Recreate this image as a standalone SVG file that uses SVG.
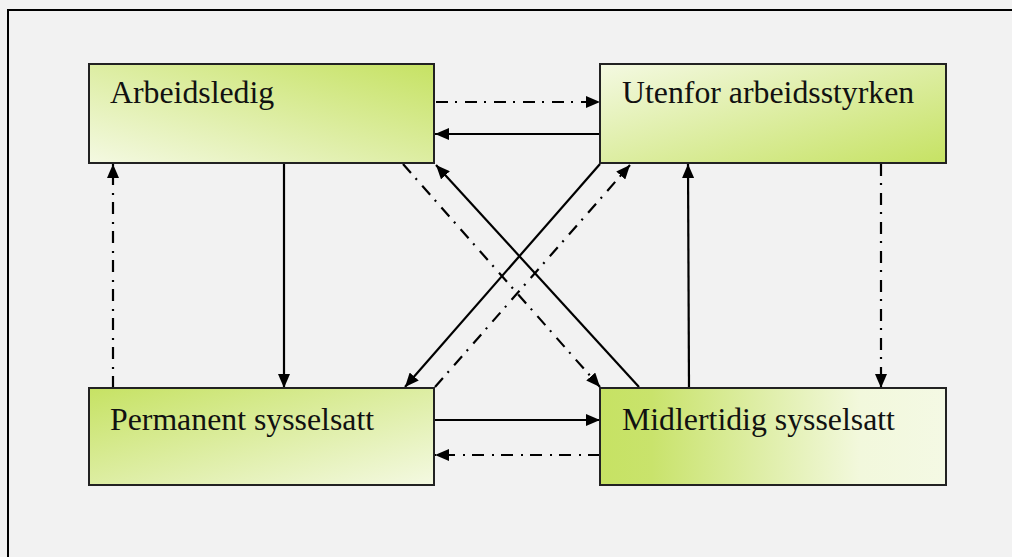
<svg xmlns="http://www.w3.org/2000/svg" width="1012" height="557" viewBox="0 0 1012 557">
<defs>
<linearGradient id="g1" x1="0" y1="1" x2="1" y2="0"><stop offset="0" stop-color="#f4f9e2"/><stop offset="1" stop-color="#c6e263"/></linearGradient>
<linearGradient id="g2" x1="0" y1="0" x2="1" y2="1"><stop offset="0" stop-color="#f4f9e2"/><stop offset="1" stop-color="#c6e263"/></linearGradient>
<linearGradient id="g3" x1="0" y1="0" x2="1" y2="1"><stop offset="0" stop-color="#c6e263"/><stop offset="1" stop-color="#f4f9e2"/></linearGradient>
<linearGradient id="g4" x1="0" y1="0" x2="1" y2="0"><stop offset="0" stop-color="#c6e263"/><stop offset="0.15" stop-color="#c9e36c"/><stop offset="0.75" stop-color="#f2f8dc"/><stop offset="1" stop-color="#f4f9e4"/></linearGradient>
<marker id="ah" viewBox="0 0 14 12" refX="14" refY="6" markerWidth="14" markerHeight="12" markerUnits="userSpaceOnUse" orient="auto"><path d="M0,0 L14,6 L0,12 Z" fill="#000"/></marker>
</defs>
<style>
.box{stroke:#222;stroke-width:2}
.lbl{font-family:"Liberation Serif","Times New Roman",serif;font-size:31.8px;fill:#111}
.c{stroke:#000;stroke-width:2.2;fill:none;marker-end:url(#ah)}
.dd{stroke-dasharray:12 7 2 8}
</style>
<rect x="0" y="0" width="1012" height="557" fill="#f2f2f2"/>
<path d="M8,557 V10 H1012" fill="none" stroke="#000" stroke-width="2"/>
<g id="connectors">
<line class="c dd" x1="436" y1="102" x2="600" y2="102"/>
<line class="c" x1="600" y1="134" x2="435" y2="134"/>
<line class="c" x1="284" y1="164" x2="284" y2="388"/>
<line class="c dd" x1="113" y1="388" x2="113" y2="164"/>
<line class="c dd" x1="881" y1="164" x2="881" y2="388"/>
<line class="c" x1="689" y1="388" x2="688" y2="164"/>
<line class="c" x1="435" y1="420" x2="600" y2="420"/>
<line class="c dd" x1="600" y1="455" x2="435" y2="455"/>
<line class="c" x1="639" y1="387" x2="436" y2="165"/>
<line class="c" x1="600" y1="164" x2="405" y2="387"/>
<line class="c dd" x1="403" y1="164" x2="600" y2="387"/>
<line class="c dd" x1="435" y1="387" x2="630" y2="165"/>
</g>
<g id="arbeidsledig">
<rect class="box" x="89" y="64" width="345" height="99" fill="url(#g1)"/>
<text class="lbl" x="110" y="103">Arbeidsledig</text>
</g>
<g id="utenfor">
<rect class="box" x="600" y="64" width="346" height="99" fill="url(#g2)"/>
<text class="lbl" x="622" y="103">Utenfor arbeidsstyrken</text>
</g>
<g id="permanent">
<rect class="box" x="89" y="388" width="345" height="97" fill="url(#g3)"/>
<text class="lbl" x="110" y="430">Permanent sysselsatt</text>
</g>
<g id="midlertidig">
<rect class="box" x="600" y="388" width="346" height="97" fill="url(#g4)"/>
<text class="lbl" x="622" y="430">Midlertidig sysselsatt</text>
</g>
</svg>
